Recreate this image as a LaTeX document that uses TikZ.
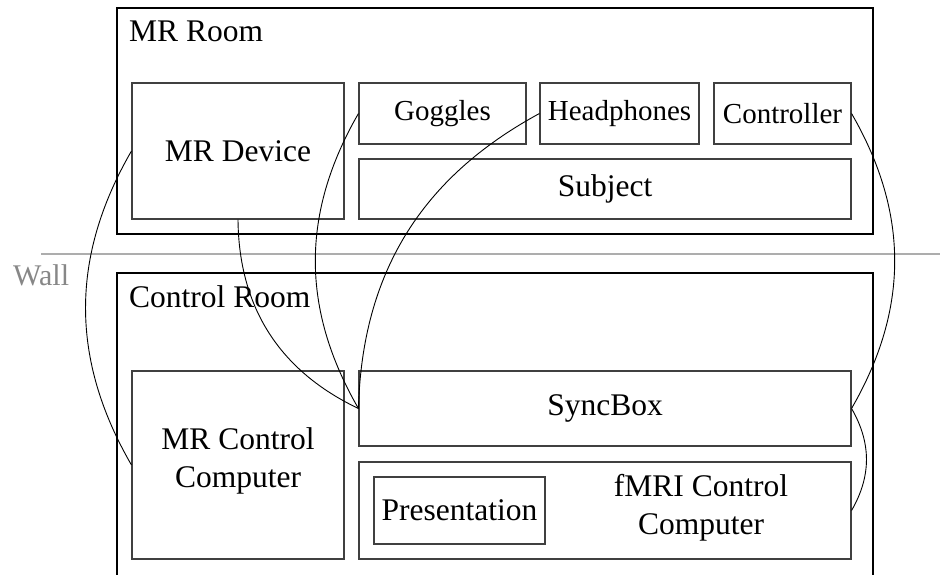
\documentclass[tikz,border=0pt]{standalone}
\usepackage{fontspec}
\setmainfont{Liberation Serif}
\definecolor{boxline}{gray}{0.25}
\definecolor{wallline}{gray}{0.68}
\definecolor{walltext}{gray}{0.53}
\tikzset{
  room/.style={draw=black, line width=2.4pt, rectangle, inner sep=0pt},
  unit/.style={draw=boxline, line width=1.1pt, rectangle, inner sep=0pt,
    font=\fontsize{31.5}{38}\selectfont, align=center},
  smallunit/.style={unit, font=\fontsize{29}{34}\selectfont},
  label/.style={inner sep=0pt, font=\fontsize{31.5}{38}\selectfont},
  cable/.style={draw=black, line width=0.9pt},
}
\begin{document}
\begin{tikzpicture}[x=1pt, y=1pt]
\useasboundingbox (0,0) rectangle (940,574);
\fill[white] (0,0) rectangle (940,574);
\begin{scope}
\clip (0,0) rectangle (940,574);

% partition between the two rooms
\coordinate (wallL) at (41,320);
\coordinate (wallR) at (940,320);
\draw[wallline, line width=1.2pt] (wallL) -- (wallR);
\node[label, text=walltext, anchor=base west, font=\fontsize{30}{36}\selectfont] (wall) at (13,289) {Wall};

% scanner room
\node[room, minimum width=756pt, minimum height=226pt] (mrroom) at (495,453) {};
\node[label, anchor=base west] (mrroomlbl) at (129,532) {MR Room};
\node[unit, minimum width=212pt, minimum height=136pt] (mrdev) at (238,423) {MR Device};
\node[smallunit, minimum width=167pt, minimum height=61pt] (goggles) at (442.5,460.5) {Goggles};
\node[smallunit, minimum width=159pt, minimum height=61pt] (headph) at (619.5,460.5) {Headphones};
\node[smallunit, minimum width=137pt, minimum height=61pt] (ctrl) at (782.5,460.5) {Controller};
\node[unit, minimum width=492pt, minimum height=60pt] (subject) at (605,385) {Subject};

% control room (continues below the page edge)
\node[room, minimum width=756pt, minimum height=331pt] (ctrlroom) at (495,135.5) {};
\node[label, anchor=base west] (ctrlroomlbl) at (129,267) {Control Room};
\node[unit, minimum width=212pt, minimum height=188pt] (mrcc) at (238,109) {};
\node[label, align=center] (mrcctext) at (238,113) {MR Control\\Computer};
\node[unit, minimum width=492pt, minimum height=75pt] (sync) at (605,165.5) {SyncBox};
\node[unit, minimum width=492pt, minimum height=97pt] (fmri) at (605,63.5) {};
\node[unit, minimum width=171pt, minimum height=67pt] (pres) at (459.5,63.5) {Presentation};
\node[label, align=center] (fmritext) at (701,66) {fMRI Control\\Computer};

% cables
\draw[cable] (mrdev.west) to[bend right=30] (mrcc.west);
\draw[cable] (mrdev.south) to[bend right=32] (sync.west);
\draw[cable] (goggles.west) to[bend right=30] (sync.west);
\draw[cable] (headph.west) to[bend right=30] (sync.west);
\draw[cable] (ctrl.east) to[bend left=30] (sync.east);
\draw[cable] (sync.east) to[bend left=30] (fmri.east);
\end{scope}
\end{tikzpicture}
\end{document}
